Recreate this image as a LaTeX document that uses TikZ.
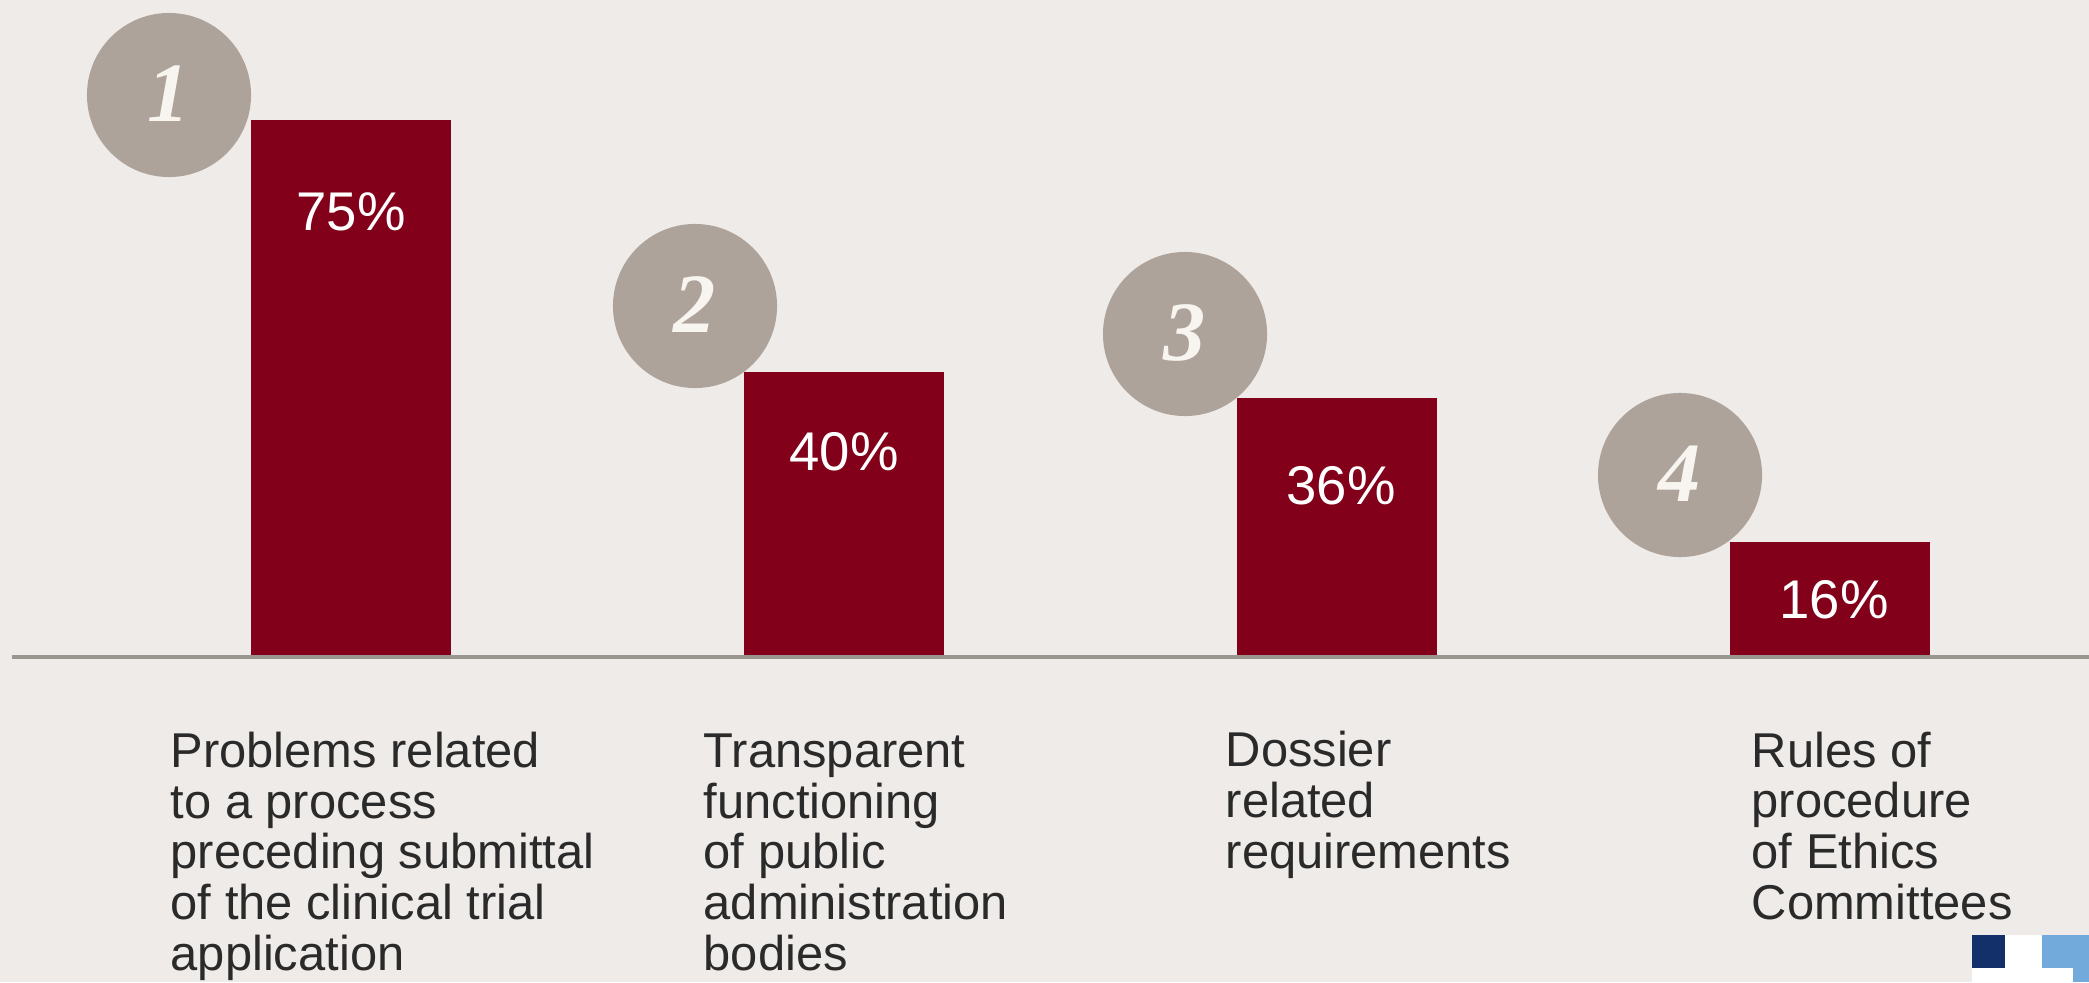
\documentclass[tikz,border=0pt]{standalone}
\usepackage{fontspec}
\setmainfont{Liberation Sans}
\newfontfamily\numfont{Liberation Serif}
\definecolor{bgc}{HTML}{EEEBE8}
\definecolor{barc}{HTML}{82001A}
\definecolor{circc}{HTML}{ADA39B}
\definecolor{basec}{HTML}{9B9590}
\definecolor{txtc}{HTML}{2A2A2A}
\definecolor{navyc}{HTML}{14306B}
\definecolor{lbluec}{HTML}{72AADC}
\definecolor{numc}{HTML}{F8F4F0}
\tikzset{
  barbox/.style={fill=barc, draw=none},
  numcirc/.style={circle, fill=circc, draw=none, minimum size=1.64cm, inner sep=0pt,
    text=numc, font=\numfont\bfseries\itshape\fontsize{24}{24}\selectfont},
  pct/.style={text=white, inner sep=0pt, font=\fontsize{15.5}{16}\selectfont},
  lbl/.style={text=txtc, align=left, anchor=base west, inner sep=0pt,
    font=\fontsize{13.9}{14.4}\selectfont},
}
\begin{document}
\begin{tikzpicture}[x=0.01cm, y=-0.01cm]
\fill[bgc] (0,0) rectangle (2089,982);
\useasboundingbox (0,0) rectangle (2089,982);
% bars
\fill[barc] (251,120) rectangle (451,657);
\fill[barc] (744,372) rectangle (944,657);
\fill[barc] (1237,398) rectangle (1437,657);
\fill[barc] (1730,542) rectangle (1930,657);
% baseline
\coordinate (bl) at (12,657);
\coordinate (br) at (2089,657);
\draw[basec, line width=1.4pt] (bl) -- (br);
% percentages
\node[pct] (p1) at (351,212) {75\%};
\node[pct] (p2) at (844,452) {40\%};
\node[pct] (p3) at (1341,486) {36\%};
\node[pct] (p4) at (1834,600) {16\%};
% circles
\node[numcirc] (c1) at (169,95) {\raisebox{1pt}{1}};
\node[numcirc] (c2) at (695,306) {\raisebox{1pt}{2}};
\node[numcirc] (c3) at (1185,334) {\raisebox{1pt}{3}};
\node[numcirc] (c4) at (1680,475) {\raisebox{1pt}{4}};
% labels (anchor = baseline of last line)
\node[lbl] (l1) at (170,970) {Problems related\\to a process\\preceding submittal\\of the clinical trial\\application};
\node[lbl] (l2) at (703,970) {Transparent\\functioning\\of public\\administration\\bodies};
\node[lbl] (l3) at (1225,868) {Dossier\\related\\requirements};
\node[lbl] (l4) at (1751,919) {Rules of\\procedure\\of Ethics\\Committees};
% logo corner
\fill[white] (1972,935) rectangle (2089,982);
\fill[navyc] (1972,935) rectangle (2005,968);
\fill[lbluec] (2042,935) rectangle (2089,968);
\fill[lbluec] (2073,968) rectangle (2089,982);
\end{tikzpicture}
\end{document}
